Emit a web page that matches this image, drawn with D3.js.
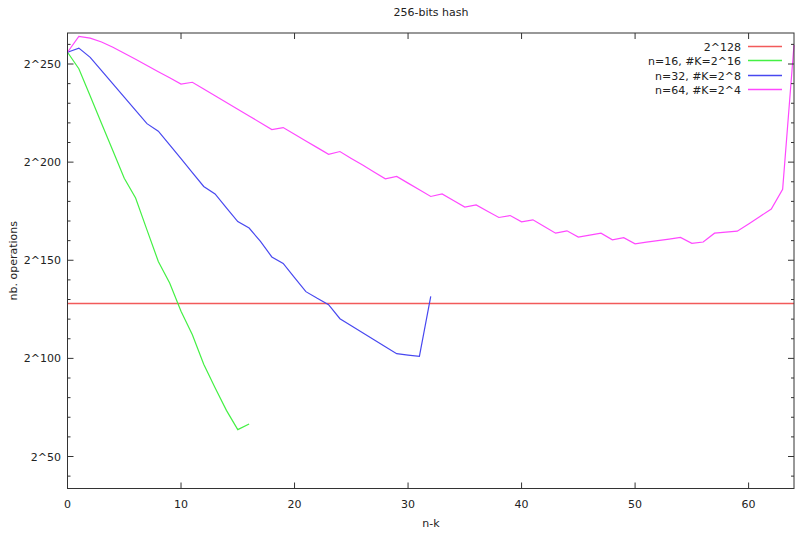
<!DOCTYPE html>
<html>
<head>
<meta charset="utf-8">
<script src="https://cdnjs.cloudflare.com/ajax/libs/d3/7.8.5/d3.min.js"></script>
<style>
body { margin: 0; background: #fff; }
text { font-family: "DejaVu Sans", sans-serif; font-size: 11px; fill: #222; }
</style>
</head>
<body>
<script>
var width = 795,
    height = 533;

// exponents (log2 of nb. operations)
var nk16 = d3.range(0, 17),
    ops16 = [256, 247.6, 233.7, 219.7, 205.8, 191.8, 181.7, 165.5, 149.4, 138.4, 124, 112, 97, 85, 73.5, 63.7, 66.6];

var nk32 = d3.range(0, 33),
    ops32 = [256, 258.1, 253.4, 246.6, 239.9, 233.1, 226.4, 219.6, 215.8, 208.8, 201.8, 194.7, 187.6, 183.8, 176.7,
             169.7, 166.4, 159.6, 151.7, 148.4, 141.2, 134, 130.6, 127.4, 120.2, 116.6, 113.1, 109.5, 105.9, 102.4,
             101.7, 101, 131.6];

var nk64 = d3.range(0, 65),
    ops64 = [256, 264.1, 263.2, 261.2, 258.5, 255.5, 252.4, 249.2, 246.1, 243, 239.8, 240.7, 237.3, 233.8, 230.4,
             227, 223.5, 220.1, 216.6, 217.6, 214.2, 210.8, 207.4, 204, 205.4, 201.9, 198.5, 195, 191.5, 192.7,
             189.3, 185.9, 182.5, 183.8, 180.4, 177.1, 178.2, 175, 171.8, 172.8, 169.6, 170.6, 167.2, 163.8, 165,
             161.8, 162.8, 163.8, 160.4, 161.5, 158.4, 159.2, 160, 160.8, 161.6, 158.6, 159.3, 163.8, 164.3, 164.8,
             168.5, 172.3, 176.1, 186.2, 259.7];

var boundX = [0, 64],
    boundY = [128, 128];

var xTicks = [0, 10, 20, 30, 40, 50, 60],
    yTicks = [50, 100, 150, 200, 250],
    yMinor = d3.range(40, 261, 10);

var labels = ['2^128', 'n=16, #K=2^16', 'n=32, #K=2^8', 'n=64, #K=2^4'],
    colors = ['#f25a5a', '#44f044', '#4848f0', '#ff48ff'];

var pLeft = 67.5, pRight = 794, pTop = 33, pBottom = 488.5;

var x = d3.scaleLinear().domain([0, 64]).range([pLeft, pRight]),
    y = d3.scaleLinear().domain([33.7, 265.8]).range([pBottom, pTop]);

var svg = d3.select('body').append('svg')
    .attr('width', width)
    .attr('height', height);

var series = [
    {xs: boundX, ys: boundY},
    {xs: nk16, ys: ops16},
    {xs: nk32, ys: ops32},
    {xs: nk64, ys: ops64}
];

var line = d3.line()
    .x(function(d) { return x(d[0]); })
    .y(function(d) { return y(d[1]); });

var plot = svg.append('g');

series.forEach(function(s, i) {
    plot.append('path')
        .datum(d3.zip(s.xs, s.ys))
        .attr('d', line)
        .attr('fill', 'none')
        .attr('stroke', colors[i])
        .attr('stroke-width', i == 0 ? 1.5 : 1.2);
});

// border + ticks on all four sides, gnuplot style
var axisCol = '#333';
svg.append('rect')
    .attr('x', pLeft)
    .attr('y', pTop)
    .attr('width', pRight - pLeft)
    .attr('height', pBottom - pTop)
    .attr('fill', 'none')
    .attr('stroke', axisCol);

xTicks.forEach(function(t) {
    svg.append('line').attr('x1', x(t)).attr('x2', x(t)).attr('y1', pBottom).attr('y2', pBottom - 6).attr('stroke', axisCol);
    svg.append('line').attr('x1', x(t)).attr('x2', x(t)).attr('y1', pTop).attr('y2', pTop + 6).attr('stroke', axisCol);
    svg.append('text')
        .attr('x', x(t))
        .attr('y', 508)
        .attr('text-anchor', 'middle')
        .text(t);
});

yMinor.forEach(function(t) {
    var len = yTicks.indexOf(t) >= 0 ? 6 : 3;
    svg.append('line').attr('x1', pLeft).attr('x2', pLeft + len).attr('y1', y(t)).attr('y2', y(t)).attr('stroke', axisCol);
    svg.append('line').attr('x1', pRight).attr('x2', pRight - len).attr('y1', y(t)).attr('y2', y(t)).attr('stroke', axisCol);
});

yTicks.forEach(function(t) {
    svg.append('text')
        .attr('x', 61)
        .attr('y', y(t) + 4)
        .attr('text-anchor', 'end')
        .text('2^' + t);
});

svg.append('text')
    .attr('x', 431)
    .attr('y', 16)
    .attr('text-anchor', 'middle')
    .text('256-bits hash');

svg.append('text')
    .attr('x', 431)
    .attr('y', 527)
    .attr('text-anchor', 'middle')
    .text('n-k');

svg.append('text')
    .attr('transform', 'translate(17,' + (pTop + pBottom) / 2 + ')rotate(-90)')
    .attr('text-anchor', 'middle')
    .text('nb. operations');

// legend
var legend = svg.append('g');
labels.forEach(function(l, i) {
    var ly = Math.round(46 + i * 14.4) + 0.5;
    legend.append('text')
        .attr('x', 741)
        .attr('y', ly + 4)
        .attr('text-anchor', 'end')
        .text(l);
    legend.append('line')
        .attr('x1', 748)
        .attr('x2', 782)
        .attr('y1', ly)
        .attr('y2', ly)
        .attr('stroke', colors[i])
        .attr('stroke-width', 1.5);
});
</script>
</body>
</html>
